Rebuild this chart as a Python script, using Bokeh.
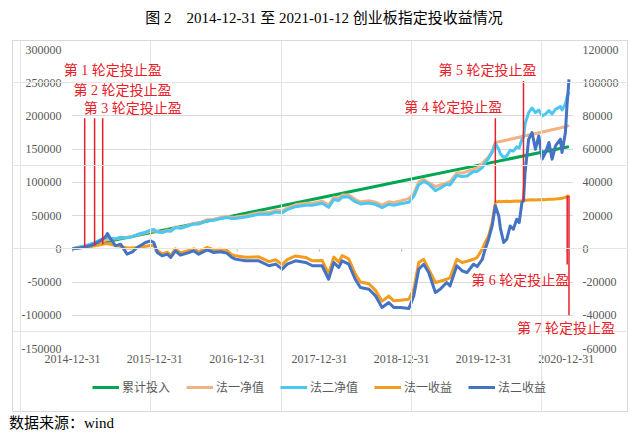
import pandas as pd
from bokeh.plotting import figure
from bokeh.models import (Range1d, LinearAxis, FixedTicker, NumeralTickFormatter,
                          DatetimeTickFormatter, Legend, LegendItem, Label, Div, GridBox, Spacer)
from bokeh.layouts import column, row
from bokeh.embed import file_html
from bokeh.resources import INLINE

TITLE = "图 2　2014-12-31 至 2021-01-12 创业板指定投收益情况"
SOURCE = "数据来源：wind"

INVEST_DATES = ["2014-12-31", "2015-12-31", "2016-12-31", "2017-12-31", "2018-12-31",
                "2019-12-31", "2020-12-31", "2021-01-12"]
INVEST = [0, 25500, 51000, 76500, 102000, 127500, 153000, 153800]

DATES = [
    "2014-12-31", "2015-01-20", "2015-02-05", "2015-02-23", "2015-03-21", "2015-04-08",
    "2015-04-26", "2015-05-14", "2015-05-28", "2015-06-04", "2015-06-19", "2015-07-10",
    "2015-08-01", "2015-08-16", "2015-08-30", "2015-09-23", "2015-10-14", "2015-11-20",
    "2015-12-12", "2015-12-27", "2016-01-11", "2016-02-02", "2016-02-25", "2016-03-11",
    "2016-04-01", "2016-04-23", "2016-05-23", "2016-06-21", "2016-07-13", "2016-08-20",
    "2016-09-18", "2016-10-17", "2016-11-15", "2016-12-07", "2016-12-23", "2017-02-06",
    "2017-04-06", "2017-05-21", "2017-06-20", "2017-07-19", "2017-08-10", "2017-09-16",
    "2017-10-31", "2017-11-30", "2018-01-12", "2018-02-10", "2018-03-05", "2018-03-27",
    "2018-04-11", "2018-05-10", "2018-06-08", "2018-07-01", "2018-08-08", "2018-09-06",
    "2018-10-05", "2018-11-04", "2018-11-26", "2018-12-26", "2019-02-01", "2019-02-23",
    "2019-03-17", "2019-04-08", "2019-04-30", "2019-05-30", "2019-06-20", "2019-07-19",
    "2019-08-03", "2019-09-02", "2019-09-25", "2019-10-17", "2019-11-15", "2019-12-01",
    "2019-12-24", "2020-01-06", "2020-01-21", "2020-02-06", "2020-02-20", "2020-03-06",
    "2020-03-13", "2020-03-28", "2020-04-11", "2020-04-26", "2020-05-10", "2020-05-25",
    "2020-06-05", "2020-06-17", "2020-06-24", "2020-07-01", "2020-07-17", "2020-08-01",
    "2020-08-16", "2020-08-31", "2020-09-15", "2020-09-30", "2020-10-15", "2020-10-29",
    "2020-11-13", "2020-12-05", "2020-12-12", "2020-12-27", "2021-01-03", "2021-01-12",
]

NAV1 = [  # 法一净值 (left axis)
    0, 1600, 3000, 4500, 6800, 8500, 10300, 12000, 13200, 13800, 14500, 15300,
    16300, 16800, 17300, 19000, 20800, 24100, 26200, 27200, 26000, 25300, 28000, 27500,
    33000, 32000, 35000, 38500, 38500, 43800, 44500, 47000, 48500, 47500, 47800, 50000,
    54300, 54600, 57900, 57000, 61600, 66300, 68500, 68500, 71800, 65800, 77500, 76000,
    81100, 81200, 74200, 70800, 72300, 70300, 65900, 70900, 69700, 72100, 75500, 83000,
    100700, 104500, 99600, 93700, 96000, 99200, 101200, 114400, 114000, 116400, 119500, 121800,
    128300, 133300, 138300, 147400, 160500, 161000, 161500, 162800, 163800, 165000, 166000, 167200,
    168000, 169000, 169500, 170000, 171200, 172300, 173500, 174600, 175800, 177000, 178100, 179200,
    180400, 182000, 182600, 183800, 184500, 186000,
]

NAV2 = [  # 法二净值 (left axis)
    0, 1600, 3000, 4500, 7000, 9500, 12500, 15000, 16500, 17500, 16000, 15000,
    17500, 17000, 16500, 18000, 21500, 25000, 28000, 29000, 25500, 24500, 27000, 26500,
    32000, 31000, 34000, 37500, 37300, 42500, 43000, 45500, 47000, 45800, 45800, 47800,
    51900, 52100, 55300, 54300, 58900, 63400, 65500, 65500, 68600, 62500, 74300, 72800,
    77900, 78000, 70900, 67500, 69000, 67000, 62100, 67100, 65700, 67800, 70000, 79000,
    96600, 101500, 97600, 87700, 91200, 97200, 96200, 110500, 109000, 109600, 116500, 116300,
    122200, 129300, 136300, 145400, 158500, 150000, 143000, 137400, 140000, 148500, 147000, 153500,
    152000, 165000, 167500, 188000, 205000, 212000, 205000, 209000, 200000, 203000, 208000, 203000,
    210000, 214000, 209000, 218000, 228000, 236000,
]

PNL1 = [  # 法一收益 (right axis)
    0, 300, 600, 1000, 1300, 1800, 2300, 2800, 3000, 3000, 2800, 2000,
    1500, 1000, 500, 500, 800, 1500, 2000, 2000, -1000, -3000, -2000, -4000,
    0, -2500, -1300, 0, -1800, 900, -600, -200, -1000, -3500, -4200, -5000,
    -4800, -7700, -6600, -9500, -6500, -4300, -5200, -7200, -7000, -15000, -5000, -8000,
    -4000, -6000, -15000, -20000, -21000, -25000, -31500, -28500, -31300, -31000, -30300, -24300,
    -8200, -6300, -12300, -20300, -19500, -18300, -17300, -6300, -8200, -7500, -6300, -5200,
    -200, 3800, 7800, 15800, 27900, 28600, 28400, 28500, 28600, 28500, 28700, 28800,
    28700, 28900, 29000, 29200, 29400, 29500, 29400, 29600, 29700, 29600, 29800, 29900,
    30000, 30300, 30500, 31000, 31500, 32300,
]

PNL2 = [  # 法二收益 (right axis)
    0, 300, 600, 1000, 2000, 2800, 4300, 5800, 7500, 9200, 5800, 1800,
    2800, -200, -3200, -1800, 800, 3800, 4800, 3800, -2200, -4200, -3200, -5200,
    -1200, -3800, -2600, -1200, -3200, -600, -2200, -1800, -2600, -5200, -6200, -7200,
    -7200, -10200, -9200, -12200, -9200, -7200, -8200, -10200, -10200, -18300, -8200, -11200,
    -7200, -9200, -18300, -23300, -24300, -28300, -35300, -32300, -35300, -35300, -35900, -28300,
    -12300, -9300, -14300, -26300, -24300, -20300, -22300, -10200, -13200, -14300, -9300, -10700,
    -6300, -200, 5800, 13800, 25900, 19900, 12800, 3800, 5800, 13800, 11800, 17800,
    15800, 27900, 29000, 45900, 66000, 70000, 60000, 68000, 54000, 58000, 64000, 54000,
    62000, 66000, 58000, 70000, 86000, 102000,
]

STOP_DATES = ["2015-02-23", "2015-04-08", "2015-05-14", "2020-02-20", "2020-06-24",
              "2021-01-04", "2021-01-12"]
STOP_TOP = [78600, 78600, 78600, 78600, 101100, 32000, 32000]        # right axis
STOP_BOTTOM = [1000, 2000, 2800, 27900, 29000, -9500, -40000]      # right axis
STOP_LABELS = ["第 1 轮定投止盈", "第 2 轮定投止盈", "第 3 轮定投止盈", "第 4 轮定投止盈",
               "第 5 轮定投止盈", "第 6 轮定投止盈", "第 7 轮定投止盈"]

X_TICKS = ["2014-12-31", "2015-12-31", "2016-12-31", "2017-12-31", "2018-12-31",
           "2019-12-31", "2020-12-31"]
LEFT_TICKS = [-150000, -100000, -50000, 0, 50000, 100000, 150000, 200000, 250000, 300000]
RIGHT_TICKS = [-60000, -40000, -20000, 0, 20000, 40000, 60000, 80000, 100000, 120000]

SERIES_NAMES = ["累计投入", "法一净值", "法二净值", "法一收益", "法二收益"]
SERIES_COLORS = ["#00A651", "#F4B183", "#4CC6F2", "#F39C1E", "#4472C4"]

SERIF = "'Liberation Serif', 'Noto Sans CJK SC'"
GRAY = "#595959"
RED = "#E8202A"

# geometry of the chart box
W, H = 616, 372
BL, BR, BT, BB = 59, 55, 9, 64          # borders around the plotting frame
FW, FH = W - BL - BR, H - BT - BB


def ms(d):
    return pd.Timestamp(d).value // 10**6


x = pd.to_datetime(DATES)
xi = pd.to_datetime(INVEST_DATES)
X0, X1 = ms("2014-12-26 12:00"), ms("2021-02-01")

p = figure(width=W, height=H, x_axis_type="datetime",
           x_range=Range1d(X0, X1), y_range=Range1d(LEFT_TICKS[0], LEFT_TICKS[-1]),
           output_backend="svg", toolbar_location=None,
           min_border_left=BL, min_border_right=BR, min_border_top=BT, min_border_bottom=BB)
p.extra_y_ranges = {"right": Range1d(RIGHT_TICKS[0], RIGHT_TICKS[-1])}
p.background_fill_color = "white"
p.border_fill_color = None
p.outline_line_color = None
p.styles = {"box-shadow": "inset 0 0 0 1px #D9D9D9", "background-color": "white"}

p.xgrid.visible = False
p.ygrid.grid_line_color = "#D9D9D9"
p.ygrid.grid_line_width = 1

p.xaxis.ticker = FixedTicker(ticks=[ms(d) for d in X_TICKS])
p.xaxis.formatter = DatetimeTickFormatter(days="%Y-%m-%d", months="%Y-%m-%d", years="%Y-%m-%d")
p.yaxis.ticker = FixedTicker(ticks=LEFT_TICKS)
p.yaxis.formatter = NumeralTickFormatter(format="0")
ra = LinearAxis(y_range_name="right", ticker=FixedTicker(ticks=RIGHT_TICKS),
                formatter=NumeralTickFormatter(format="0"))
p.add_layout(ra, "right")
for ax in (p.xaxis[0], p.yaxis[0], ra):
    ax.axis_line_color = None
    ax.major_tick_line_color = None
    ax.minor_tick_line_color = None
    ax.major_tick_out = 0
    ax.major_tick_in = 0
    ax.minor_tick_out = 0
    ax.major_label_text_font = SERIF
    ax.major_label_text_font_size = "12px"
    ax.major_label_text_color = GRAY
p.xaxis.major_label_standoff = 6
p.yaxis.major_label_standoff = 10
ra.major_label_standoff = 9

# small tick marks on the zero line
p.segment(x0=pd.to_datetime(X_TICKS), y0=0, x1=pd.to_datetime(X_TICKS), y1=-4500,
          line_color="#BFBFBF", line_width=1)

p.line(xi, INVEST, line_color=SERIES_COLORS[0], line_width=3)
p.line(x, NAV1, line_color=SERIES_COLORS[1], line_width=3, line_join="round")
p.line(x, NAV2, line_color=SERIES_COLORS[2], line_width=3, line_join="round")
p.line(x, PNL1, line_color=SERIES_COLORS[3], line_width=3, line_join="round", y_range_name="right")
p.line(x, PNL2, line_color=SERIES_COLORS[4], line_width=3, line_join="round", y_range_name="right")

sd = pd.to_datetime(STOP_DATES)
p.segment(x0=sd, y0=STOP_BOTTOM, x1=sd, y1=STOP_TOP, line_color=RED, line_width=1.5,
          y_range_name="right")

# transparent overlay covering the whole box (same data mapping, frame = whole box),
# so that labels and legend are not clipped to the plotting frame
kx = (X1 - X0) / FW
ky = (RIGHT_TICKS[-1] - RIGHT_TICKS[0]) / FH
ov = figure(width=W, height=H,
            x_range=Range1d(X0 - BL * kx, X1 + BR * kx),
            y_range=Range1d(RIGHT_TICKS[0] - BB * ky, RIGHT_TICKS[-1] + BT * ky),
            x_axis_location=None, y_axis_location=None,
            output_backend="svg", toolbar_location=None, min_border=0)
ov.outline_line_color = None
ov.background_fill_color = None
ov.border_fill_color = None

placements = [("top", "left", -21, 48), ("top", "left", -21, 28), ("top", "left", -19, 10),
              ("top", "right", 7, 11), ("top", "center", -36, 10),
              ("bottom", "right", 2, -16), ("bottom", "right", 46, -13)]
for i, (anchor, align, dx, dy) in enumerate(placements):
    yv = STOP_TOP[i] if anchor == "top" else STOP_BOTTOM[i]
    ov.add_layout(Label(x=ms(STOP_DATES[i]), y=yv, x_offset=dx, y_offset=dy,
                        text=STOP_LABELS[i], text_align=align, text_baseline="middle",
                        text_font=SERIF, text_font_size="14px", text_color=RED))

items = []
for name, col in zip(SERIES_NAMES, SERIES_COLORS):
    r = ov.line(x=[X0 - BL * kx], y=[RIGHT_TICKS[0] - BB * ky], line_color=col, line_width=3)
    items.append(LegendItem(label=name, renderers=[r]))
legend = Legend(items=items, orientation="horizontal", location=(80, 16))
legend.border_line_color = None
legend.background_fill_alpha = 0
legend.margin = 0
legend.padding = 4
legend.spacing = 16
legend.glyph_width = 27
legend.glyph_height = 16
legend.label_standoff = 3
legend.label_text_font = SERIF
legend.label_text_font_size = "12px"
legend.label_text_color = GRAY
ov.add_layout(legend)

# the overlay is wrapped in its own column so that its frame is not aligned with the main plot
box = GridBox(children=[(p, 0, 0), (column(ov, width=W, height=H), 0, 0)])

title = Div(text='<span style="position:relative;left:7px">' + TITLE + '</span>',
            width=624, height=30,
            styles={"font-family": SERIF, "font-size": "15px", "line-height": "26px",
                    "text-align": "center", "color": "#000000", "width": "624px"})
source = Div(text='<span style="position:relative;top:-3px;left:4px">' + SOURCE + '</span>',
             width=624, height=19,
             styles={"font-family": SERIF, "font-size": "15px", "line-height": "19px",
                     "color": "#000000"})

layout = column(title, row(Spacer(width=12, height=H), box), source)
open("out.html", "w").write(file_html(layout, INLINE))
